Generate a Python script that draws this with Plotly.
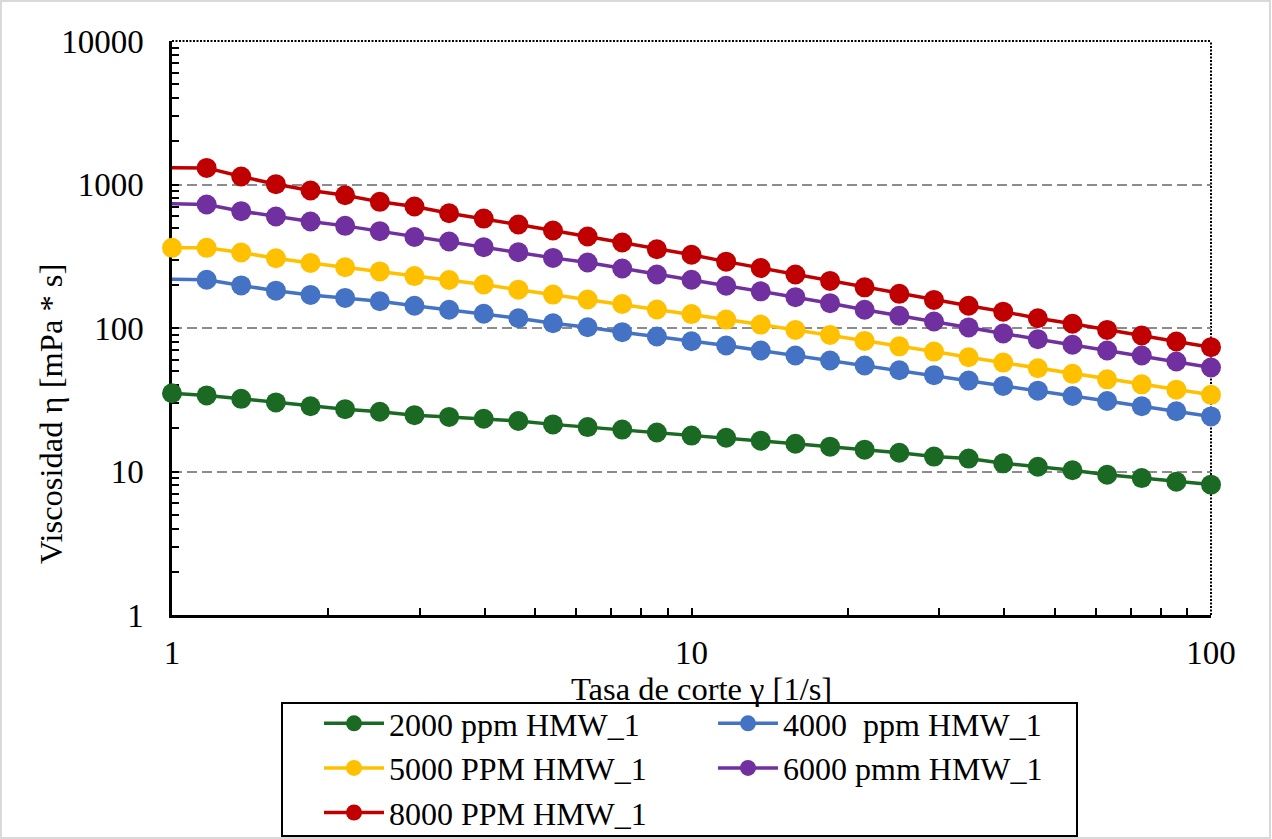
import plotly.graph_objects as go

# Shear rate [1/s], 15 points per decade
shear_rate = [1, 1.166, 1.359, 1.585, 1.848, 2.154, 2.512, 2.929, 3.415, 3.981, 4.642,
              5.412, 6.310, 7.356, 8.577, 10, 11.66, 13.59, 15.85, 18.48, 21.54,
              25.12, 29.29, 34.15, 39.81, 46.42, 54.12, 63.10, 73.56, 85.77, 100]

# Viscosity [mPa*s] for each concentration
visc_2000 = [35.1, 33.9, 32.1, 30.3, 28.5, 27.2, 26.1, 24.7, 24.0, 23.3, 22.5,
             21.3, 20.4, 19.6, 18.7, 17.8, 17.2, 16.4, 15.6, 14.9, 14.2,
             13.5, 12.7, 12.3, 11.4, 10.8, 10.2, 9.5, 9.0, 8.5, 8.1]
visc_4000 = [219, 217, 198, 182, 170, 162, 153.5, 143, 134, 125.6, 117,
             108, 101.3, 93.5, 87.3, 80.9, 75.5, 69.7, 64.3, 59.4, 54.8,
             50.8, 46.9, 43.0, 39.5, 36.6, 33.6, 31.0, 28.5, 26.3, 24.2]
visc_5000 = [362, 362, 336, 306, 284, 265, 248, 230, 216, 201, 185,
             171, 158, 147, 134.5, 125, 114.5, 105.6, 97, 89.5, 81.3,
             74.5, 68.5, 62.5, 57.4, 52.4, 47.9, 43.9, 40.5, 37.2, 34.2]
visc_6000 = [734, 726, 652, 598, 552, 515, 473, 431, 401, 366, 337,
             308, 286, 260, 236, 217, 197, 180, 164, 149, 134,
             121.5, 111, 101, 91.6, 83.6, 76.4, 69.7, 64.3, 58.4, 53.1]
visc_8000 = [1310, 1305, 1137, 1005, 908, 842, 757, 703, 631, 579, 526,
             478, 434, 394, 354, 324, 290, 262, 236, 213, 192,
             173, 157, 143, 130, 117, 107, 97, 88.6, 80.5, 73.5]

series_names = ["2000 ppm HMW_1", "4000  ppm HMW_1", "5000 PPM HMW_1",
                "6000 pmm HMW_1", "8000 PPM HMW_1"]
series_values = [visc_2000, visc_4000, visc_5000, visc_6000, visc_8000]
series_colors = ["#1B6A23", "#4472C4", "#FFC000", "#7030A0", "#C00000"]
first_marker_shown = [True, False, True, False, False]

y_ticks = [1, 10, 100, 1000, 10000]
y_tick_text = ["1", "10", "100", "1000", "10000"]
x_ticks = [1, 10, 100]
x_tick_text = ["1", "10", "100"]

FONT = "Liberation Serif"
W, H = 1272, 839
L, R, T, B = 172, 61, 41, 224
PW, PH = W - L - R, H - T - B


def px_x(p):
    return (p - L) / PW


def px_y(p):
    return (H - B - p) / PH


fig = go.Figure()
for name, vals, col, show_first in zip(series_names, series_values, series_colors, first_marker_shown):
    sizes = [20] * len(vals)
    if not show_first:
        sizes[0] = 0
    fig.add_trace(go.Scatter(
        x=shear_rate, y=vals, name=name, mode="lines+markers",
        line=dict(color=col, width=3.5),
        marker=dict(color=col, size=sizes, opacity=1, line=dict(width=0)),
        cliponaxis=False,
    ))

axis_common = dict(
    type="log", showline=True, linecolor="black", linewidth=2.5, mirror=False,
    ticks="inside", ticklen=7, tickwidth=2, tickcolor="black",
    tickfont=dict(family=FONT, size=33, color="black"),
    layer="below traces", zeroline=False,
)

fig.update_xaxes(
    range=[0, 2], tickvals=x_ticks, ticktext=x_tick_text, showgrid=False,
    ticklabelstandoff=7,
    minor=dict(ticks="inside", ticklen=7, tickwidth=2, tickcolor="black", dtick="D1", showgrid=False),
    **axis_common,
)
fig.update_yaxes(
    range=[0, 4], tickvals=y_ticks, ticktext=y_tick_text,
    showgrid=True, gridcolor="#8C8C8C", gridwidth=2, griddash="10px,5px",
    ticklabelstandoff=19,
    minor=dict(ticks="inside", ticklen=7, tickwidth=2, tickcolor="black", dtick="D1", showgrid=False),
    **axis_common,
)

shapes = [
    # dotted top and right borders of the plot area
    dict(type="line", xref="paper", yref="paper", x0=0, x1=1, y0=1, y1=1,
         line=dict(color="black", width=2, dash="2px,1.5px"), layer="below"),
    dict(type="line", xref="paper", yref="paper", x0=1, x1=1, y0=0, y1=1,
         line=dict(color="black", width=2, dash="2px,1.5px"), layer="below"),
    # chart area border
    dict(type="rect", xref="paper", yref="paper",
         x0=px_x(1), x1=px_x(W - 2), y0=px_y(H - 1), y1=px_y(1),
         line=dict(color="#D9D9D9", width=2), layer="below"),
    # legend frame
    dict(type="rect", xref="paper", yref="paper",
         x0=px_x(282), x1=px_x(1077), y0=px_y(836), y1=px_y(703),
         line=dict(color="black", width=2), layer="below"),
]

annotations = [
    dict(text="Tasa de corte γ [1/s]", xref="paper", yref="paper",
         x=px_x(701), y=px_y(689), xanchor="center", yanchor="middle",
         showarrow=False, font=dict(family=FONT, size=32.5, color="black")),
    dict(text="Viscosidad η [mPa * s]", xref="paper", yref="paper",
         x=px_x(51), y=px_y(414), xanchor="center", yanchor="middle", textangle=-90,
         showarrow=False, font=dict(family=FONT, size=32.5, color="black")),
]

fig.update_layout(
    width=W, height=H,
    margin=dict(l=L, r=R, t=T, b=B, autoexpand=False),
    paper_bgcolor="white", plot_bgcolor="white",
    font=dict(family=FONT, size=32, color="black"),
    showlegend=True,
    legend=dict(
        orientation="h", x=px_x(319), y=px_y(696), xanchor="left", yanchor="top",
        borderwidth=0, bgcolor="rgba(0,0,0,0)",
        font=dict(family=FONT, size=32, color="black"),
        itemwidth=60, entrywidth=319, entrywidthmode="pixels", traceorder="normal",
        tracegroupgap=0,
    ),
    shapes=shapes,
    annotations=annotations,
)

fig.write_html("out.html")
